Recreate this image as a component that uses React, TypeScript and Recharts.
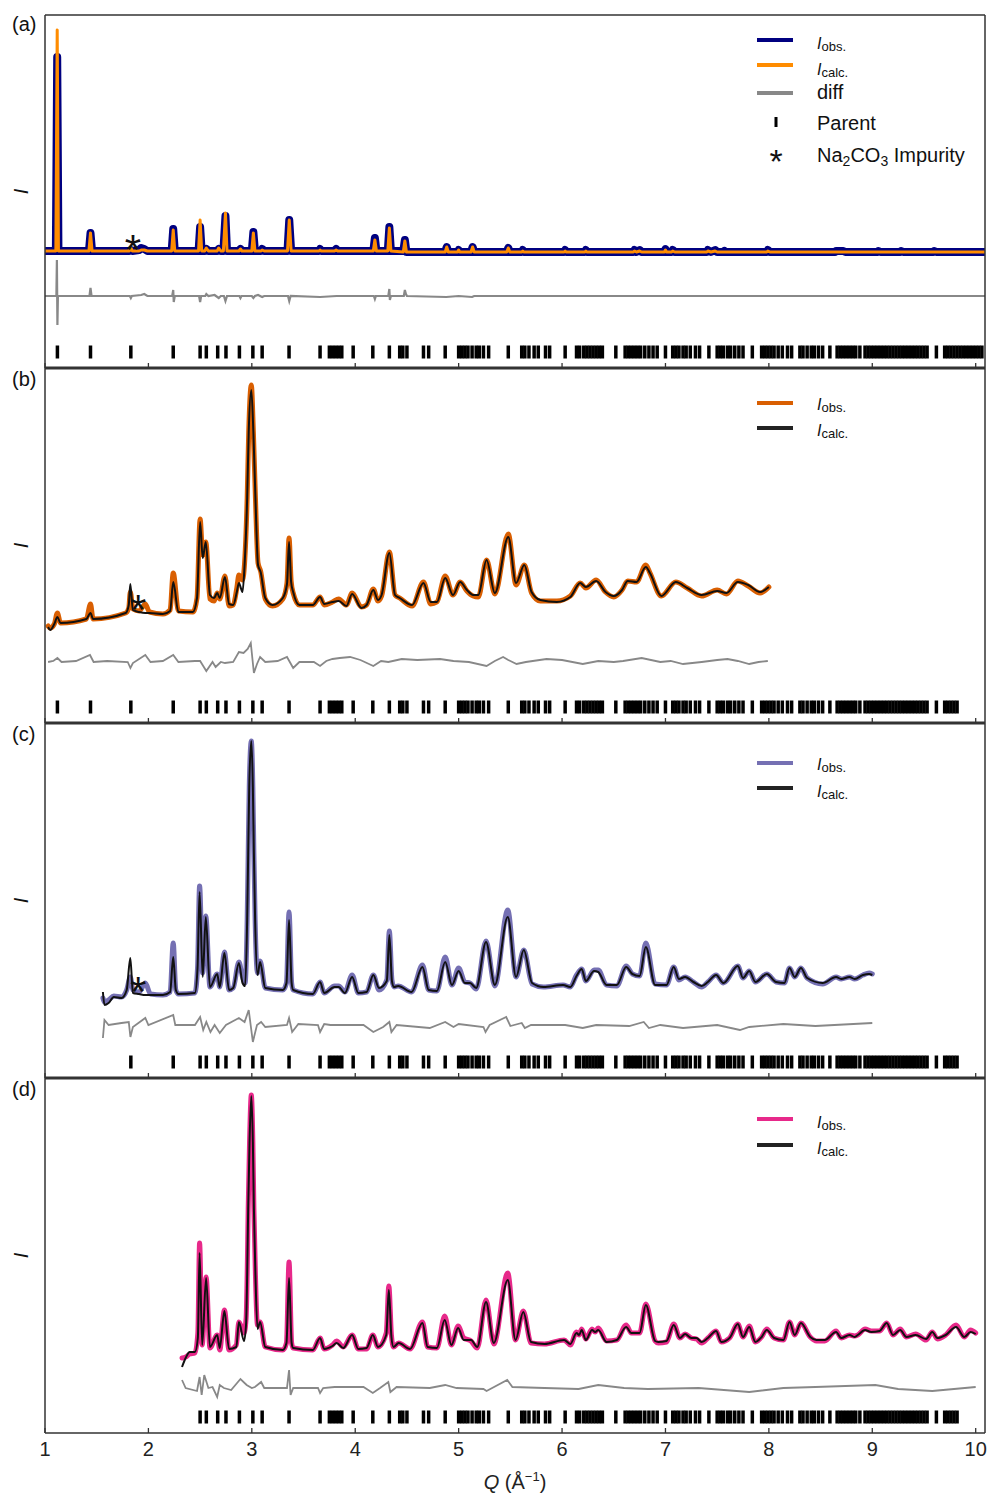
import { ComposedChart, Line, Scatter, XAxis, YAxis, Label } from "recharts";

const FONT = '"Liberation Sans", Arial, Helvetica, sans-serif';
const CHART_W = 989;
const Q_DOMAIN: [number, number] = [1, 10.09];
const qTicks = [1, 2, 3, 4, 5, 6, 7, 8, 9, 10];

// Parent phase reflection positions, Q (Å^-1)
const parentReflections = [
  1.12, 1.44, 1.83, 2.24, 2.5, 2.56, 2.67, 2.75, 2.88, 3.01, 3.1, 3.36, 3.66, 3.75, 3.78, 3.81, 3.84, 3.87,
  3.98, 4.17, 4.33, 4.43, 4.46, 4.5, 4.66, 4.71, 4.87, 5.0, 5.03, 5.06, 5.09, 5.13, 5.17, 5.2, 5.24, 5.29,
  5.48, 5.61, 5.64, 5.68, 5.73, 5.77, 5.84, 5.88, 6.03, 6.14, 6.17, 6.21, 6.24, 6.27, 6.3, 6.33, 6.36, 6.39,
  6.52, 6.61, 6.64, 6.67, 6.7, 6.73, 6.76, 6.8, 6.84, 6.88, 6.92, 7.0, 7.07, 7.1, 7.13, 7.17, 7.2, 7.24,
  7.29, 7.33, 7.42, 7.5, 7.53, 7.56, 7.6, 7.63, 7.67, 7.71, 7.75, 7.84, 7.93, 7.96, 7.99, 8.02, 8.05, 8.09,
  8.13, 8.18, 8.22, 8.3, 8.33, 8.37, 8.41, 8.44, 8.48, 8.52, 8.59, 8.66, 8.69, 8.72, 8.75, 8.78, 8.81, 8.84,
  8.88, 8.93, 8.96, 8.99, 9.02, 9.05, 9.08, 9.11, 9.14, 9.17, 9.2, 9.23, 9.26, 9.29, 9.32, 9.35, 9.38, 9.41,
  9.44, 9.47, 9.5, 9.53, 9.62, 9.7, 9.73, 9.76, 9.79, 9.82, 9.85, 9.88, 9.91, 9.94, 9.97, 10.0, 10.03, 10.06,
];
const REFL_LEVEL = 16;

type Row = [number, number, number]; // [Q, I_obs, I_calc]
type Pt = [number, number];

// (a) parent
const profileA: Row[] = [
  [1.0, 117, 117], [1.105, 117, 117], [1.118, 311, 338], [1.13, 117, 117], [1.425, 117, 117], [1.44, 135, 135],
  [1.455, 117, 117], [1.815, 117, 117], [1.83, 118, 120], [1.845, 117, 117], [1.91, 118, 117], [1.93, 120, 118],
  [1.96, 119, 118], [1.99, 117, 117], [2.225, 117, 117], [2.24, 139, 138], [2.255, 117, 117], [2.485, 117, 117],
  [2.5, 141, 148], [2.515, 117, 117], [2.545, 117, 117], [2.56, 119, 120], [2.58, 117, 117], [2.665, 117, 117],
  [2.68, 119, 120], [2.7, 117, 117], [2.725, 117, 117], [2.745, 152, 155], [2.76, 117, 117], [2.875, 117, 117],
  [2.89, 119, 119], [2.905, 117, 117], [3.0, 117, 117], [3.015, 136, 135], [3.03, 117, 117], [3.09, 117, 117],
  [3.1, 119, 118], [3.12, 117, 117], [3.345, 117, 117], [3.362, 148, 148], [3.38, 117, 117], [3.65, 117, 117],
  [3.66, 119, 118], [3.67, 117, 117], [3.8, 117, 117], [3.815, 119, 118], [3.83, 117, 117], [4.175, 117, 117],
  [4.19, 130, 128], [4.205, 117, 117], [4.315, 117, 117], [4.33, 141, 140], [4.345, 117, 117], [4.465, 117, 116],
  [4.48, 128, 127], [4.495, 116, 116], [4.87, 116, 116], [4.885, 121, 121], [4.9, 116, 116], [4.99, 116, 116],
  [5.0, 118, 118], [5.01, 116, 116], [5.12, 116, 116], [5.135, 121, 121], [5.15, 116, 116], [5.465, 116, 116],
  [5.48, 120, 120], [5.495, 116, 116], [5.61, 116, 116], [5.62, 118, 117], [5.63, 116, 116], [6.02, 116, 116],
  [6.03, 118, 117], [6.04, 116, 116], [6.22, 116, 116], [6.23, 118, 117], [6.24, 116, 116], [6.69, 116, 116],
  [6.7, 118, 117], [6.72, 116, 116], [6.75, 118, 117], [6.77, 116, 116], [6.99, 116, 116], [7.0, 119, 118],
  [7.01, 116, 116], [7.06, 116, 116], [7.07, 118, 117], [7.09, 116, 116], [7.4, 116, 116], [7.41, 118, 117],
  [7.44, 116, 116], [7.48, 118, 117], [7.5, 116, 116], [7.56, 116, 116], [7.57, 117, 116], [7.58, 116, 116],
  [7.98, 116, 116], [7.99, 118, 117], [8.01, 116, 116], [8.64, 116, 116], [8.65, 117, 116], [8.72, 117, 116],
  [8.74, 116, 116], [9.05, 116, 116], [9.06, 117, 116], [9.08, 116, 116], [9.27, 116, 116], [9.28, 117, 116],
  [9.3, 116, 116], [9.59, 116, 116], [9.6, 117, 116], [9.62, 116, 116], [10.09, 116, 116],
];
const diffA: Pt[] = [
  [1.0, 72], [1.11, 72], [1.115, 108], [1.12, 43], [1.125, 72], [1.43, 72], [1.44, 80], [1.45, 72], [1.82, 72],
  [1.83, 70], [1.84, 72], [1.93, 73], [1.96, 74], [1.99, 72], [2.23, 72], [2.24, 78], [2.245, 66], [2.255, 72],
  [2.49, 72], [2.5, 66], [2.51, 72], [2.55, 72], [2.56, 74], [2.58, 72], [2.64, 73], [2.68, 70], [2.7, 72],
  [2.73, 72], [2.745, 67], [2.76, 72], [2.88, 72], [2.89, 70], [2.9, 72], [3.0, 72], [3.015, 70], [3.03, 72],
  [3.06, 73], [3.1, 71], [3.12, 72], [3.35, 72], [3.362, 67], [3.375, 72], [3.66, 71], [3.82, 72], [4.18, 72],
  [4.19, 69], [4.2, 72], [4.32, 72], [4.33, 79], [4.335, 68], [4.345, 72], [4.47, 72], [4.48, 78], [4.49, 74],
  [4.5, 72], [4.88, 71], [5.0, 72], [5.13, 71], [5.15, 72], [10.09, 72],
];
const impurityA: Pt[] = [[1.85, 128]];

// (b)
const profileB: Row[] = [
  [1.03, 97, 96], [1.05, 95, 93], [1.09, 99, 99], [1.12, 110, 106], [1.15, 100, 100], [1.4, 104, 104],
  [1.44, 119, 110], [1.465, 104, 104], [1.78, 110, 110], [1.81, 115, 118], [1.825, 131, 139], [1.85, 114, 113],
  [1.91, 112, 111], [1.97, 119, 110], [2.01, 111, 110], [2.14, 109, 109], [2.21, 113, 112], [2.24, 150, 141],
  [2.29, 112, 111], [2.43, 111, 111], [2.47, 125, 125], [2.5, 204, 201], [2.525, 168, 165], [2.555, 181, 181],
  [2.595, 124, 128], [2.635, 122, 125], [2.665, 130, 130], [2.69, 124, 125], [2.74, 147, 146], [2.78, 117, 119],
  [2.82, 118, 118], [2.855, 135, 131], [2.875, 148, 140], [2.91, 143, 131], [2.93, 160, 158], [2.955, 225, 225],
  [2.97, 291, 291], [2.995, 338, 333], [3.015, 291, 291], [3.035, 225, 225], [3.06, 160, 158], [3.085, 152, 151],
  [3.13, 124, 125], [3.2, 117, 118], [3.3, 124, 125], [3.34, 140, 139], [3.36, 185, 181], [3.38, 142, 141],
  [3.4, 130, 131], [3.46, 118, 118], [3.59, 118, 118], [3.66, 126, 126], [3.7, 118, 119], [3.78, 121, 121],
  [3.84, 124, 122], [3.915, 118, 117], [3.97, 130, 129], [4.06, 116, 115], [4.11, 118, 118], [4.175, 134, 133],
  [4.22, 122, 123], [4.255, 127, 128], [4.33, 171, 170], [4.385, 128, 128], [4.43, 125, 125], [4.55, 117, 118],
  [4.66, 141, 140], [4.73, 119, 121], [4.79, 121, 121], [4.87, 147, 145], [4.945, 128, 128], [5.015, 141, 141],
  [5.08, 132, 133], [5.14, 127, 128], [5.19, 126, 128], [5.27, 163, 163], [5.35, 129, 130], [5.48, 189, 186],
  [5.555, 138, 140], [5.635, 158, 158], [5.705, 130, 131], [5.79, 122, 123], [5.95, 122, 121], [6.08, 127, 126],
  [6.175, 140, 140], [6.23, 135, 136], [6.33, 143, 142], [6.42, 131, 131], [6.5, 126, 127], [6.58, 133, 133],
  [6.635, 142, 142], [6.72, 141, 141], [6.81, 158, 156], [6.85, 150, 150], [6.96, 127, 127], [7.1, 141, 141],
  [7.21, 135, 135], [7.35, 127, 128], [7.5, 133, 132], [7.59, 129, 130], [7.7, 142, 141], [7.8, 137, 138],
  [7.915, 130, 131], [8.0, 136, 136],
];
const diffB: Pt[] = [
  [1.03, 61], [1.08, 62], [1.12, 65], [1.16, 61], [1.3, 62], [1.435, 68], [1.47, 61], [1.6, 62], [1.8, 61],
  [1.826, 55], [1.85, 60], [1.97, 68], [2.02, 61], [2.14, 62], [2.24, 68], [2.29, 61], [2.45, 62], [2.5, 62],
  [2.53, 57], [2.56, 52], [2.62, 61], [2.65, 56], [2.7, 61], [2.74, 60], [2.82, 61], [2.875, 71], [2.92, 70],
  [2.96, 74], [2.99, 80], [3.02, 50], [3.05, 59], [3.08, 66], [3.13, 61], [3.25, 62], [3.34, 66], [3.4, 55],
  [3.46, 61], [3.6, 61], [3.66, 57], [3.72, 62], [3.78, 64], [3.85, 65], [3.95, 66], [4.05, 63], [4.175, 57],
  [4.25, 62], [4.32, 61], [4.45, 64], [4.6, 63], [4.82, 64], [4.95, 62], [5.1, 61], [5.27, 57], [5.35, 62],
  [5.43, 66], [5.48, 63], [5.56, 59], [5.65, 61], [5.85, 64], [6.0, 63], [6.2, 59], [6.35, 62], [6.5, 61],
  [6.59, 62], [6.77, 65], [6.95, 61], [7.05, 62], [7.17, 59], [7.35, 61], [7.5, 63], [7.6, 64], [7.7, 62],
  [7.81, 59], [7.9, 61], [7.99, 62],
];
const impurityB: Pt[] = [[1.9, 123]];

// (c)
const profileC: Row[] = [
  [1.56, 80, 86], [1.575, 76, 73], [1.615, 78, 75], [1.665, 82, 81], [1.74, 81, 80], [1.79, 88, 88],
  [1.825, 101, 120], [1.85, 88, 85], [1.91, 86, 84], [1.97, 95, 83], [2.02, 84, 83], [2.14, 83, 83],
  [2.21, 86, 86], [2.24, 135, 121], [2.265, 88, 88], [2.29, 84, 84], [2.45, 85, 85], [2.475, 110, 110],
  [2.495, 192, 186], [2.525, 105, 101], [2.555, 162, 161], [2.595, 91, 91], [2.665, 104, 104], [2.69, 91, 91],
  [2.735, 126, 125], [2.78, 88, 88], [2.82, 90, 90], [2.875, 116, 115], [2.91, 101, 95], [2.935, 95, 92],
  [2.955, 158, 158], [2.965, 225, 225], [2.975, 291, 291], [2.995, 337, 337], [3.01, 291, 291], [3.02, 225, 225],
  [3.032, 158, 158], [3.055, 105, 103], [3.08, 117, 116], [3.13, 90, 90], [3.3, 88, 88], [3.335, 95, 95],
  [3.36, 166, 158], [3.385, 95, 95], [3.4, 88, 88], [3.59, 84, 84], [3.66, 96, 96], [3.7, 85, 85],
  [3.8, 92, 91], [3.84, 92, 91], [3.9, 86, 85], [3.97, 103, 101], [4.03, 85, 85], [4.11, 86, 86],
  [4.175, 103, 103], [4.23, 88, 90], [4.305, 98, 97], [4.33, 147, 143], [4.355, 98, 97], [4.375, 91, 91],
  [4.415, 92, 92], [4.545, 86, 86], [4.65, 113, 111], [4.71, 88, 88], [4.79, 87, 87], [4.87, 121, 116],
  [4.935, 93, 93], [5.0, 110, 107], [5.06, 96, 95], [5.11, 95, 95], [5.17, 89, 90], [5.265, 137, 136],
  [5.35, 92, 93], [5.475, 168, 161], [5.555, 101, 101], [5.63, 128, 128], [5.71, 94, 95], [5.82, 91, 91],
  [6.01, 93, 93], [6.08, 91, 91], [6.14, 103, 102], [6.19, 109, 109], [6.23, 97, 97], [6.31, 108, 107],
  [6.35, 108, 106], [6.43, 93, 93], [6.53, 92, 93], [6.62, 112, 111], [6.68, 104, 104], [6.75, 102, 102],
  [6.81, 135, 131], [6.9, 94, 93], [7.01, 93, 93], [7.08, 111, 111], [7.13, 98, 99], [7.19, 101, 101],
  [7.27, 96, 96], [7.35, 91, 92], [7.41, 96, 96], [7.49, 103, 103], [7.56, 95, 95], [7.7, 112, 112],
  [7.75, 100, 100], [7.81, 107, 107], [7.87, 96, 96], [7.98, 104, 104], [8.07, 96, 96], [8.15, 95, 95],
  [8.2, 110, 110], [8.25, 101, 101], [8.31, 110, 110], [8.37, 100, 100], [8.52, 94, 95], [8.65, 101, 101],
  [8.7, 99, 99], [8.78, 101, 101], [8.83, 99, 99], [8.91, 103, 103], [8.97, 105, 104], [9.0, 104, 103],
];
const diffC: Pt[] = [
  [1.56, 40], [1.575, 58], [1.615, 53], [1.74, 55], [1.81, 56], [1.826, 41], [1.85, 51], [1.97, 60], [2.0, 53],
  [2.24, 63], [2.26, 53], [2.45, 53], [2.5, 61], [2.53, 48], [2.56, 56], [2.6, 46], [2.64, 53], [2.69, 45],
  [2.75, 53], [2.875, 60], [2.93, 56], [2.97, 68], [3.01, 36], [3.05, 53], [3.09, 56], [3.13, 51], [3.34, 53],
  [3.36, 60], [3.39, 46], [3.45, 54], [3.64, 53], [3.66, 46], [3.7, 54], [3.76, 53], [4.08, 53], [4.175, 46],
  [4.27, 51], [4.33, 56], [4.35, 46], [4.4, 53], [4.72, 50], [4.87, 56], [4.95, 51], [5.0, 54], [5.24, 51],
  [5.26, 46], [5.3, 53], [5.46, 61], [5.5, 52], [5.61, 55], [5.64, 50], [5.7, 53], [6.03, 53], [6.2, 50],
  [6.33, 53], [6.65, 52], [6.79, 56], [6.84, 50], [6.95, 53], [7.17, 50], [7.5, 53], [7.72, 48], [7.81, 51],
  [8.14, 54], [8.45, 52], [9.0, 55],
];
const impurityC: Pt[] = [[1.9, 96]];

// (d)
const profileD: Row[] = [
  [2.325, 75, 66], [2.36, 76, 75], [2.4, 79, 81], [2.45, 80, 81], [2.478, 100, 95], [2.495, 190, 180],
  [2.52, 88, 88], [2.558, 156, 155], [2.595, 85, 86], [2.665, 98, 98], [2.69, 83, 85], [2.735, 123, 122],
  [2.78, 83, 84], [2.85, 88, 86], [2.875, 111, 111], [2.925, 100, 92], [2.945, 115, 110], [2.955, 158, 158],
  [2.965, 225, 225], [2.978, 291, 291], [2.995, 338, 337], [3.01, 291, 291], [3.02, 225, 225], [3.035, 158, 158],
  [3.055, 108, 104], [3.08, 111, 111], [3.13, 86, 86], [3.3, 83, 83], [3.335, 90, 90], [3.36, 171, 155],
  [3.385, 90, 90], [3.4, 85, 85], [3.59, 83, 83], [3.66, 95, 95], [3.7, 84, 84], [3.78, 88, 87], [3.82, 92, 90],
  [3.885, 86, 85], [3.97, 98, 98], [4.03, 84, 84], [4.11, 84, 85], [4.17, 98, 98], [4.22, 86, 86],
  [4.3, 100, 98], [4.325, 147, 143], [4.35, 98, 96], [4.37, 86, 86], [4.42, 90, 90], [4.53, 84, 84],
  [4.65, 111, 110], [4.7, 86, 86], [4.79, 85, 85], [4.865, 117, 113], [4.93, 88, 88], [4.995, 107, 105],
  [5.05, 95, 93], [5.12, 92, 93], [5.18, 85, 86], [5.265, 133, 131], [5.34, 89, 90], [5.475, 160, 153],
  [5.55, 93, 93], [5.625, 122, 121], [5.7, 90, 91], [5.83, 89, 89], [6.02, 93, 93], [6.08, 88, 89],
  [6.14, 101, 100], [6.165, 98, 98], [6.19, 104, 103], [6.23, 94, 93], [6.29, 104, 103], [6.32, 101, 101],
  [6.35, 105, 103], [6.43, 92, 91], [6.53, 93, 93], [6.62, 108, 106], [6.67, 100, 100], [6.75, 100, 100],
  [6.81, 129, 128], [6.9, 92, 92], [6.93, 90, 91], [7.01, 91, 92], [7.08, 109, 108], [7.14, 95, 95],
  [7.19, 99, 99], [7.25, 95, 95], [7.3, 94, 95], [7.35, 90, 91], [7.41, 95, 95], [7.49, 102, 102],
  [7.54, 91, 91], [7.62, 95, 95], [7.7, 109, 109], [7.75, 96, 96], [7.81, 107, 106], [7.87, 91, 91],
  [7.93, 96, 96], [7.98, 104, 103], [8.05, 95, 95], [8.14, 93, 93], [8.2, 111, 111], [8.25, 98, 98],
  [8.31, 110, 110], [8.4, 96, 96], [8.46, 92, 93], [8.54, 92, 93], [8.65, 102, 101], [8.7, 95, 95],
  [8.78, 98, 98], [8.83, 97, 96], [8.86, 98, 98], [8.93, 104, 103], [8.99, 102, 101], [9.07, 102, 102],
  [9.14, 110, 110], [9.2, 98, 98], [9.27, 104, 103], [9.33, 96, 96], [9.42, 99, 98], [9.52, 93, 94],
  [9.58, 101, 101], [9.63, 94, 95], [9.71, 98, 98], [9.81, 108, 106], [9.89, 96, 96], [9.95, 103, 101],
  [10.0, 100, 99],
];
const diffD: Pt[] = [
  [2.325, 53], [2.36, 45], [2.47, 42], [2.495, 56], [2.515, 38], [2.54, 58], [2.58, 45], [2.62, 46],
  [2.665, 36], [2.69, 48], [2.73, 45], [2.8, 43], [2.89, 54], [2.95, 48], [3.0, 45], [3.03, 46], [3.09, 51],
  [3.12, 45], [3.34, 45], [3.36, 63], [3.375, 38], [3.4, 45], [3.64, 45], [3.66, 40], [3.69, 45], [3.8, 46],
  [4.08, 46], [4.17, 40], [4.24, 45], [4.32, 51], [4.34, 41], [4.4, 46], [4.72, 45], [4.87, 48], [4.98, 45],
  [5.24, 44], [5.27, 42], [5.47, 53], [5.52, 46], [5.83, 45], [6.16, 44], [6.35, 48], [6.6, 45], [6.83, 44],
  [7.32, 45], [7.81, 41], [8.14, 45], [8.45, 46], [9.03, 48], [9.25, 44], [9.58, 42], [10.0, 46],
];

const ReflMark = (props: any) => (
  <rect x={props.cx - 1.75} y={props.cy - 6.5} width={3.5} height={13} fill="#000" />
);

const StarMark = (props: any) => (
  <text x={props.cx} y={props.cy + 24} textAnchor="middle" fontSize={42} fontFamily={FONT} fill="#111">
    *
  </text>
);

// axis tick marks only, no number
const NoLabel = () => <g />;

const QLabel = (props: any) => {
  const vb = props.viewBox;
  return (
    <text x={vb.x + vb.width / 2} y={vb.y + 56} textAnchor="middle" fontSize={20} fontFamily={FONT} fill="#222">
      <tspan fontStyle="italic">Q</tspan> (Å
      <tspan fontSize={13} dy={-8}>−1</tspan>
      <tspan dy={8}>)</tspan>
    </text>
  );
};

interface PanelProps {
  height: number;
  top: number;
  span: number;
  profile: Row[];
  diff: Pt[];
  reflRange: [number, number];
  impurity?: Pt[];
  obsColor: string;
  calcColor: string;
  obsWidth: number;
  calcWidth: number;
  diffWidth: number;
  frameTop: number;
  frameBottom: number;
  curve: "linear" | "monotoneX";
  showQ?: boolean;
}

function Panel(p: PanelProps) {
  const profile = p.profile.map(([q, obs, calc]) => ({ q, obs, calc }));
  const diff = p.diff.map(([q, d]) => ({ q, d }));
  const refl = parentReflections
    .filter((q) => q >= p.reflRange[0] && q <= p.reflRange[1])
    .map((q) => ({ q, y: REFL_LEVEL }));
  const impurity = (p.impurity ?? []).map(([q, y]) => ({ q, y }));
  const frame = { stroke: "#333", strokeWidth: 1.5 };
  const tickLine = { stroke: "#333", strokeWidth: 1.3 };

  return (
    <ComposedChart width={CHART_W} height={p.height} margin={{ top: p.top, right: 4, bottom: 0, left: 45 }}>
      {p.showQ ? (
        <XAxis
          dataKey="q"
          type="number"
          domain={Q_DOMAIN}
          allowDataOverflow
          ticks={qTicks}
          orientation="bottom"
          height={64}
          tickSize={-5}
          tickMargin={14}
          tick={{ fontSize: 20, fill: "#222", fontFamily: FONT }}
          tickLine={tickLine}
          axisLine={{ stroke: "#333", strokeWidth: p.frameBottom }}
        >
          <Label content={QLabel} />
        </XAxis>
      ) : (
        <XAxis
          dataKey="q"
          type="number"
          domain={Q_DOMAIN}
          allowDataOverflow
          ticks={qTicks}
          orientation="bottom"
          mirror
          height={10}
          tickSize={5}
          tick={NoLabel}
          tickLine={tickLine}
          axisLine={{ stroke: "#333", strokeWidth: p.frameBottom }}
        />
      )}
      <XAxis
        xAxisId="top"
        type="number"
        domain={Q_DOMAIN}
        allowDataOverflow
        ticks={qTicks}
        orientation="top"
        mirror
        height={10}
        tickSize={5}
        tick={NoLabel}
        tickLine={tickLine}
        axisLine={{ stroke: "#333", strokeWidth: p.frameTop }}
      />
      <YAxis
        type="number"
        domain={[0, p.span]}
        allowDataOverflow
        mirror
        width={10}
        tick={false}
        tickLine={false}
        axisLine={frame}
      />
      <YAxis
        yAxisId="right"
        orientation="right"
        type="number"
        domain={[0, p.span]}
        allowDataOverflow
        mirror
        width={10}
        tick={false}
        tickLine={false}
        axisLine={frame}
      />
      <Line
        data={diff}
        dataKey="d"
        type="linear"
        stroke="#888"
        strokeWidth={p.diffWidth}
        dot={false}
        isAnimationActive={false}
      />
      <Line
        data={profile}
        dataKey="obs"
        type={p.curve}
        stroke={p.obsColor}
        strokeWidth={p.obsWidth}
        strokeLinejoin="round"
        strokeLinecap="round"
        dot={false}
        isAnimationActive={false}
      />
      <Line
        data={profile}
        dataKey="calc"
        type={p.curve}
        stroke={p.calcColor}
        strokeWidth={p.calcWidth}
        strokeLinejoin="round"
        dot={false}
        isAnimationActive={false}
      />
      <Scatter data={refl} dataKey="y" shape={ReflMark} isAnimationActive={false} />
      {impurity.length > 0 && <Scatter data={impurity} dataKey="y" shape={StarMark} isAnimationActive={false} />}
    </ComposedChart>
  );
}

// legend rows: sample line y, label baseline
function LegendLine({ y, color }: { y: number; color: string }) {
  return <line x1={757} x2={793} y1={y} y2={y} stroke={color} strokeWidth={4} />;
}

function Intensity({ y, sub }: { y: number; sub: string }) {
  return (
    <text x={817} y={y} fontSize={16} fontFamily={FONT} fill="#111">
      <tspan fontStyle="italic">I</tspan>
      <tspan fontSize={13} dy={2}>{sub}</tspan>
    </text>
  );
}

function Overlay() {
  const txt = { fontSize: 20, fontFamily: FONT, fill: "#111" };
  const panelLabels = [
    ["(a)", 31, 191.5],
    ["(b)", 386, 545.5],
    ["(c)", 741, 900.5],
    ["(d)", 1096, 1255.5],
  ] as const;
  const sampleLegends = [
    { color: "#d95f02", l1: 403, l2: 428, t1: 410, t2: 435.5 },
    { color: "#7570b3", l1: 763, l2: 788, t1: 770, t2: 796.5 },
    { color: "#e7298a", l1: 1119, l2: 1145, t1: 1128, t2: 1154 },
  ];
  return (
    <svg width={989} height={1497} style={{ position: "absolute", left: 0, top: 0, pointerEvents: "none" }}>
      {panelLabels.map(([lab, by, cy]) => (
        <g key={lab}>
          <text x={12} y={by} {...txt}>
            {lab}
          </text>
          <text transform={`translate(28,${cy}) rotate(-90)`} textAnchor="middle" fontStyle="italic" {...txt}>
            I
          </text>
        </g>
      ))}

      <LegendLine y={40} color="#000080" />
      <LegendLine y={65} color="#ff8c00" />
      <LegendLine y={93} color="#888" />
      <rect x={774.5} y={117} width={3} height={10} fill="#000" />
      <text x={776} y={173} textAnchor="middle" fontSize={34} fontFamily={FONT} fill="#111">
        *
      </text>
      <Intensity y={49} sub="obs." />
      <Intensity y={75} sub="calc." />
      <text x={817} y={99} {...txt}>
        diff
      </text>
      <text x={817} y={129.5} {...txt}>
        Parent
      </text>
      <text x={817} y={161.5} {...txt}>
        Na<tspan fontSize={14} dy={4}>2</tspan>
        <tspan dy={-4}>CO</tspan>
        <tspan fontSize={14} dy={4}>3</tspan>
        <tspan dy={-4}> Impurity</tspan>
      </text>

      {sampleLegends.map((s) => (
        <g key={s.color}>
          <LegendLine y={s.l1} color={s.color} />
          <LegendLine y={s.l2} color="#222" />
          <Intensity y={s.t1} sub="obs." />
          <Intensity y={s.t2} sub="calc." />
        </g>
      ))}
    </svg>
  );
}

export default function App() {
  return (
    <div style={{ position: "absolute", left: 0, top: 0, width: 989, height: 1497, background: "#fff" }}>
      <Panel
        height={368}
        top={15}
        span={353}
        profile={profileA}
        diff={diffA}
        reflRange={[1.0, 10.1]}
        impurity={impurityA}
        obsColor="#000080"
        calcColor="#ff8c00"
        obsWidth={8}
        calcWidth={3}
        diffWidth={2.2}
        frameTop={1.5}
        frameBottom={3}
        curve="linear"
      />
      <Panel
        height={355}
        top={0}
        span={355}
        profile={profileB}
        diff={diffB}
        reflRange={[1.0, 9.83]}
        impurity={impurityB}
        obsColor="#d95f02"
        calcColor="#111"
        obsWidth={5}
        calcWidth={2}
        diffWidth={1.8}
        frameTop={3}
        frameBottom={3}
        curve="monotoneX"
      />
      <Panel
        height={355}
        top={0}
        span={355}
        profile={profileC}
        diff={diffC}
        reflRange={[1.8, 9.83]}
        impurity={impurityC}
        obsColor="#7570b3"
        calcColor="#111"
        obsWidth={5}
        calcWidth={2}
        diffWidth={1.8}
        frameTop={3}
        frameBottom={3}
        curve="monotoneX"
      />
      <Panel
        height={419}
        top={0}
        span={355}
        profile={profileD}
        diff={diffD}
        reflRange={[2.45, 9.83]}
        obsColor="#e7298a"
        calcColor="#111"
        obsWidth={5}
        calcWidth={2}
        diffWidth={1.8}
        frameTop={3}
        frameBottom={1.5}
        curve="monotoneX"
        showQ
      />
      <Overlay />
    </div>
  );
}
